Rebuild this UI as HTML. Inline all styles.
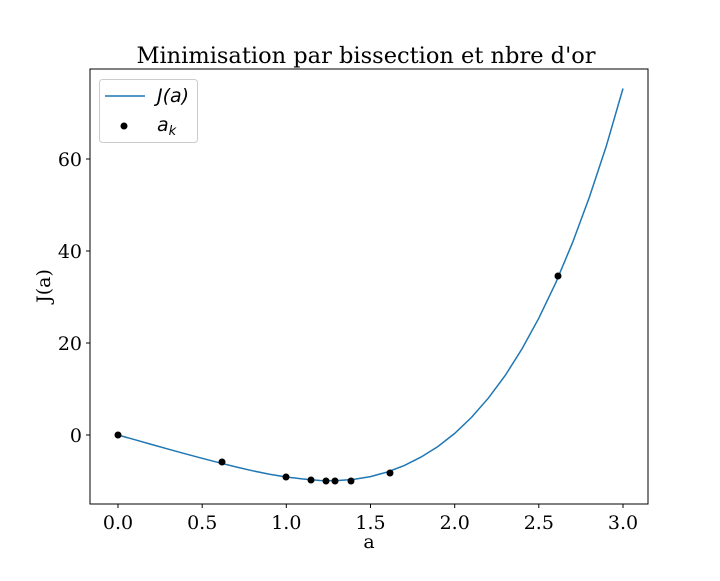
<!DOCTYPE html>
<html><head><meta charset="utf-8"><style>body{margin:0;background:#fff}</style></head><body>
<svg width="720" height="576" xmlns="http://www.w3.org/2000/svg" font-family="DejaVu Serif, Liberation Serif, serif">
<rect width="720" height="576" fill="#fff"/>
<polyline fill="none" stroke="#1f77b4" stroke-width="1.5" points="118,435 134.8,439.7 151.7,444.5 168.5,449.2 185.3,453.8 202.2,458.3 219,462.7 235.8,466.9 252.7,470.8 269.5,474.2 286.3,477 303.2,479 320,480.5 336.8,480.6 353.7,479.4 370.5,476.6 387.3,472 404.2,465.6 421,457.1 437.8,446.6 454.7,433.4 471.5,417.4 488.3,398.2 505.2,375.5 522,348.9 538.8,318.2 555.7,282.9 572.5,242.7 589.3,197.4 606.2,146.4 623,88.5"/>
<g fill="#000">
<circle cx="118" cy="435" r="3.5"/><circle cx="222" cy="462" r="3.5"/><circle cx="286" cy="477" r="3.5"/><circle cx="311" cy="480" r="3.5"/><circle cx="326" cy="481" r="3.5"/><circle cx="335" cy="481" r="3.5"/><circle cx="351" cy="481" r="3.5"/><circle cx="390" cy="473" r="3.5"/><circle cx="558" cy="276" r="3.5"/>
</g>
<rect x="90" y="69" width="558" height="435" fill="none" stroke="#000" stroke-width="1"/>
<g stroke="#000" stroke-width="1">
<line x1="118" y1="504" x2="118" y2="508"/><line x1="202.2" y1="504" x2="202.2" y2="508"/><line x1="286.3" y1="504" x2="286.3" y2="508"/><line x1="370.5" y1="504" x2="370.5" y2="508"/><line x1="454.7" y1="504" x2="454.7" y2="508"/><line x1="538.8" y1="504" x2="538.8" y2="508"/><line x1="623" y1="504" x2="623" y2="508"/>
<line x1="86" y1="435" x2="90" y2="435"/><line x1="86" y1="343" x2="90" y2="343"/><line x1="86" y1="251" x2="90" y2="251"/><line x1="86" y1="159" x2="90" y2="159"/>
</g>
<g font-size="19" text-anchor="middle" fill="#000">
<text x="118" y="529">0.0</text><text x="202.2" y="529">0.5</text><text x="286.3" y="529">1.0</text><text x="370.5" y="529">1.5</text><text x="454.7" y="529">2.0</text><text x="538.8" y="529">2.5</text><text x="623" y="529">3.0</text>
<text x="369" y="548">a</text>
</g>
<g font-size="19" text-anchor="end" fill="#000">
<text x="82" y="442">0</text><text x="82" y="350">20</text><text x="82" y="258">40</text><text x="82" y="166">60</text>
</g>
<text transform="translate(50,286) rotate(-90)" font-size="19" text-anchor="middle">J(a)</text>
<text x="366" y="63" font-size="22.5" text-anchor="middle">Minimisation par bissection et nbre d'or</text>
<rect x="99.5" y="79.5" width="98" height="63" rx="3" fill="#fff" stroke="#ccc"/>
<line x1="105" y1="96" x2="145" y2="96" stroke="#1f77b4" stroke-width="1.5"/>
<text x="157" y="102" font-size="19" font-style="italic" font-family="DejaVu Sans, sans-serif">J(a)</text>
<circle cx="124" cy="126" r="3.5" fill="#000"/>
<text x="157" y="131" font-size="19" font-style="italic" font-family="DejaVu Sans, sans-serif">a<tspan font-size="13" dy="4">k</tspan></text>
</svg>
</body></html>
